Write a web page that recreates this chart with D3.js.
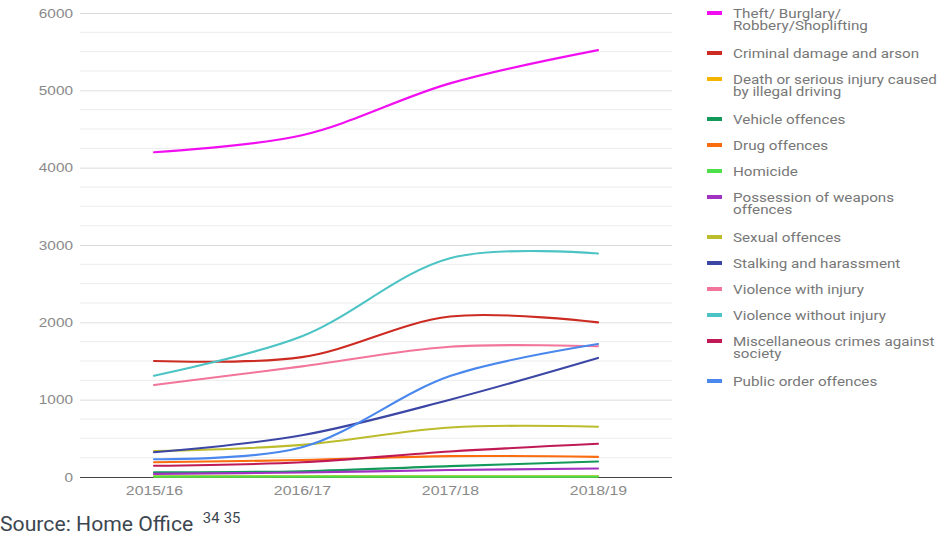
<!DOCTYPE html>
<html>
<head>
<meta charset="utf-8">
<script src="https://cdn.jsdelivr.net/npm/d3@7"></script>
<style>
  body { margin: 0; background: #fff; }
  svg { display: block; font-family: Roboto, "Noto Sans", sans-serif; }
</style>
</head>
<body>
<svg id="chart" width="940" height="541"></svg>
<script>
// Recorded offences by category, England & Wales
const years = ["2015/16", "2016/17", "2017/18", "2018/19"];

const seriesNames = [
  "Theft/ Burglary/ Robbery/Shoplifting",
  "Criminal damage and arson",
  "Death or serious injury caused by illegal driving",
  "Vehicle offences",
  "Drug offences",
  "Homicide",
  "Possession of weapons offences",
  "Sexual offences",
  "Stalking and harassment",
  "Violence with injury",
  "Violence without injury",
  "Miscellaneous crimes against society",
  "Public order offences"
];

const theft          = [4200, 4420, 5090, 5520];
const criminalDamage = [1500, 1550, 2075, 2000];
const illegalDriving = [8, 9, 10, 10];
const vehicle        = [60, 75, 140, 200];
const drugs          = [190, 220, 270, 260];
const homicide       = [5, 5, 5, 5];
const weapons        = [40, 58, 90, 110];
const sexual         = [335, 415, 640, 650];
const stalking       = [320, 540, 1000, 1540];
const violenceInj    = [1190, 1430, 1685, 1690];
const violenceNoInj  = [1310, 1820, 2830, 2890];
const miscSociety    = [145, 190, 330, 430];
const publicOrder    = [230, 385, 1305, 1720];

const seriesValues = [theft, criminalDamage, illegalDriving, vehicle, drugs, homicide,
  weapons, sexual, stalking, violenceInj, violenceNoInj, miscSociety, publicOrder];

const colors = ["#f10ff1", "#cc2b22", "#f4b400", "#139a5a", "#fb6c0e", "#4ee04a",
  "#a232c2", "#bcbc2c", "#3b46a5", "#f2759b", "#4cc3c4", "#c01a56", "#4a88ee"];

const yTicks = [0, 1000, 2000, 3000, 4000, 5000, 6000];

const legendLines = [
  ["Theft/ Burglary/", "Robbery/Shoplifting"],
  ["Criminal damage and arson"],
  ["Death or serious injury caused", "by illegal driving"],
  ["Vehicle offences"],
  ["Drug offences"],
  ["Homicide"],
  ["Possession of weapons", "offences"],
  ["Sexual offences"],
  ["Stalking and harassment"],
  ["Violence with injury"],
  ["Violence without injury"],
  ["Miscellaneous crimes against", "society"],
  ["Public order offences"]
];

const svg = d3.select("#chart");
const plot = { left: 80, right: 672, top: 13, bottom: 477 };
const stretch = 1.18; // wide label lettering

const x = d3.scalePoint().domain(years).range([plot.left, plot.right]).padding(0.5);
const y = d3.scaleLinear().domain([0, 6000]).range([plot.bottom, plot.top]);

// minor gridlines every 250
const minor = d3.range(0, 6001, 250).filter(v => v % 1000 !== 0);
svg.append("g").selectAll("line").data(minor).join("line")
  .attr("x1", plot.left).attr("x2", plot.right)
  .attr("y1", d => y(d)).attr("y2", d => y(d))
  .attr("stroke", "#ececec").attr("stroke-width", 1);

// major gridlines + y labels via axis
const yAxis = d3.axisLeft(y).tickValues(yTicks).tickSize(-(plot.right - plot.left)).tickPadding(6).tickFormat(d3.format("d"));
const gy = svg.append("g").attr("transform", `translate(${plot.left},0)`).call(yAxis);
gy.select(".domain").remove();
gy.selectAll(".tick line").attr("stroke", d => d === 0 ? "#444" : "#dcdcdc").attr("stroke-width", d => d === 0 ? 1.2 : 1);
gy.selectAll(".tick text").attr("fill", "#8a8a8a").style("font-size", "13px")
  .attr("transform", `scale(${stretch},1)`);

// x labels
const xAxis = d3.axisBottom(x).tickSize(0).tickPadding(9);
const gx = svg.append("g").attr("transform", `translate(0,${plot.bottom})`).call(xAxis);
gx.select(".domain").remove();
gx.selectAll(".tick text").attr("fill", "#8a8a8a").style("font-size", "13px")
  .attr("transform", `scale(1.22,1)`);

// series lines
const line = d3.line()
  .x((d, i) => x(years[i]))
  .y(d => y(d))
  .curve(d3.curveCatmullRom.alpha(0.5));

svg.append("g").selectAll("path").data(seriesValues).join("path")
  .attr("d", d => line(d))
  .attr("fill", "none")
  .attr("stroke", (d, i) => colors[i])
  .attr("stroke-width", 2.1)
  .attr("stroke-linecap", "round");

// legend
const lg = svg.append("g");
let ly = 13;
legendLines.forEach((lines, i) => {
  lg.append("rect").attr("x", 707).attr("y", ly - 2).attr("width", 15).attr("height", 4)
    .attr("fill", colors[i]);
  const t = lg.append("text")
    .attr("transform", `translate(733,${ly + 4.5}) scale(${stretch},1)`)
    .attr("fill", "#777").style("font-size", "12.9px");
  lines.forEach((s, j) => {
    t.append("tspan").attr("x", 0).attr("y", j * 13).text(s);
  });
  ly += 26 + (lines.length - 1) * 14;
});

// source note
const src = svg.append("text").attr("transform", "translate(0,531) scale(1.06,1)")
  .attr("fill", "#3c4650").style("font-size", "20px");
src.append("tspan").text("Source: Home Office");
src.append("tspan").attr("dx", 9).attr("dy", -8).style("font-size", "14px").text("34");
src.append("tspan").attr("dx", 4).style("font-size", "14px").text("35");
</script>
</body>
</html>
